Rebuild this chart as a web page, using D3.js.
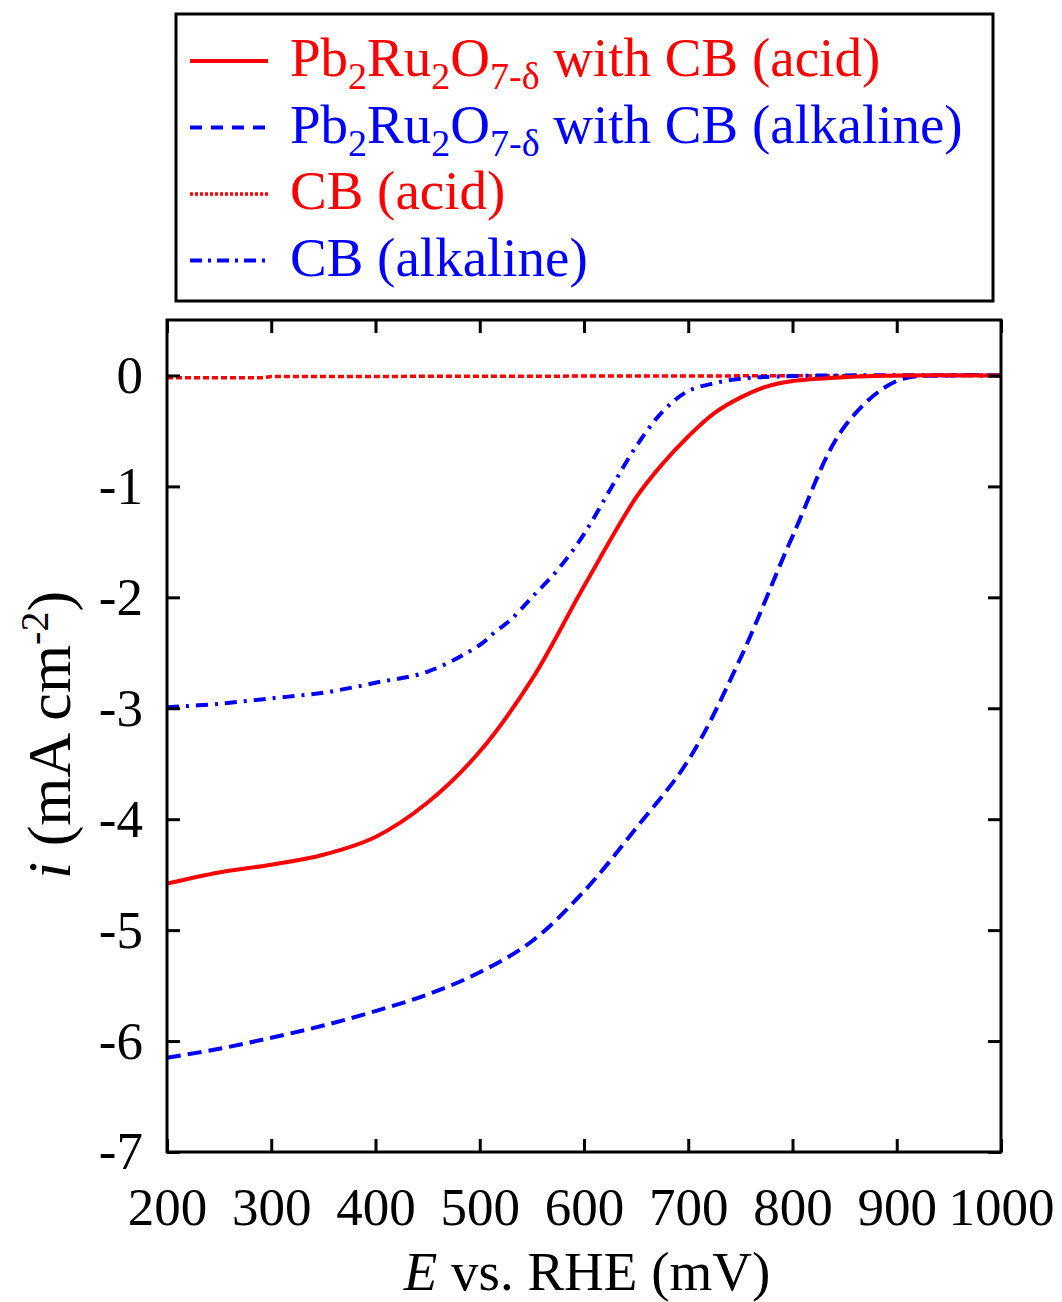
<!DOCTYPE html>
<html><head><meta charset="utf-8">
<script src="https://cdn.jsdelivr.net/npm/d3@7"></script>
<style>body{margin:0;background:#fff;} text{font-family:"Liberation Serif","Times New Roman",serif;}</style>
</head><body>
<svg id="c" width="1062" height="1302"></svg>
<script>
// Data (E in mV, i in mA cm^-2)
const pbAcidE = [200,250,300,350,400,450,500,550,600,650,675,700,725,750,775,800,850,900,1000];
const pbAcidI = [-4.58,-4.48,-4.41,-4.32,-4.16,-3.85,-3.39,-2.74,-1.90,-1.10,-0.80,-0.55,-0.34,-0.20,-0.10,-0.05,-0.015,0,0];

const pbAlkE = [200,250,300,350,400,450,500,550,600,650,700,750,800,850,900,950,1000];
const pbAlkI = [-6.15,-6.07,-5.97,-5.86,-5.73,-5.58,-5.38,-5.10,-4.65,-4.08,-3.47,-2.55,-1.45,-0.46,-0.05,0,0];

const cbAcidE = [200,290,300,1000];
const cbAcidI = [-0.02,-0.02,-0.01,0];

const cbAlkE = [200,250,300,350,400,450,500,515,530,550,575,600,625,650,675,700,725,750,800,1000];
const cbAlkI = [-2.99,-2.96,-2.91,-2.86,-2.77,-2.67,-2.43,-2.31,-2.20,-2.00,-1.75,-1.43,-1.03,-0.64,-0.33,-0.14,-0.07,-0.03,-0.005,0];

const xTicks = [200,300,400,500,600,700,800,900,1000];
const yTicks = [0,-1,-2,-3,-4,-5,-6,-7];

const svg = d3.select("#c");
const L=167, R=1001, T=320, B=1152;
const x = d3.scaleLinear().domain([200,1000]).range([L,R]);
const y = d3.scaleLinear().domain([-7,0.5]).range([B,T]);

const series = [
  {E:cbAcidE, I:cbAcidI, color:"#ff0000", dash:"6,3", w:3.5, curve:d3.curveLinear},
  {E:cbAlkE, I:cbAlkI, color:"#0000ff", dash:"12,7,3,7", w:4, curve:d3.curveCatmullRom},
  {E:pbAlkE, I:pbAlkI, color:"#0000ff", dash:"14,7", w:4, curve:d3.curveCatmullRom},
  {E:pbAcidE, I:pbAcidI, color:"#ff0000", dash:null, w:4, curve:d3.curveCatmullRom}
];
const g = svg.append("g");
series.forEach(s=>{
  const line = d3.line().x(d=>x(d[0])).y(d=>y(Math.min(d[1],0))).curve(s.curve);
  g.append("path").datum(s.E.map((e,i)=>[e,s.I[i]]))
   .attr("d",line).attr("fill","none").attr("stroke",s.color)
   .attr("stroke-width",s.w).attr("stroke-dasharray",s.dash);
});

// Axes (ticks inward on all sides)
const tl = 13;
const axB = d3.axisBottom(x).tickValues(xTicks).tickSize(-tl).tickPadding(35).tickFormat(d3.format("d"));
const axT = d3.axisTop(x).tickValues(xTicks).tickSize(-tl).tickFormat("");
const axL = d3.axisLeft(y).tickValues(yTicks).tickSize(-tl).tickPadding(24).tickFormat(d=>d===0?"0":"-"+Math.abs(d));
const axR = d3.axisRight(y).tickValues(yTicks).tickSize(-tl).tickFormat("");
function style(sel){
  sel.select(".domain").remove();
  sel.selectAll("line").attr("stroke","#000").attr("stroke-width",3);
  sel.selectAll("text").attr("fill","#000").style("font-size","53px").style("font-family","Liberation Serif");
}
svg.append("g").attr("transform",`translate(0,${B})`).call(axB).call(style);
svg.append("g").attr("transform",`translate(0,${T})`).call(axT).call(style);
svg.append("g").attr("transform",`translate(${L},0)`).call(axL).call(style);
svg.append("g").attr("transform",`translate(${R},0)`).call(axR).call(style);
svg.append("rect").attr("x",L).attr("y",T).attr("width",R-L).attr("height",B-T)
  .attr("fill","none").attr("stroke","#000").attr("stroke-width",3);

// Axis titles
const xt = svg.append("text").attr("x",587).attr("y",1290).attr("text-anchor","middle").style("font-size","55px");
xt.append("tspan").attr("font-style","italic").text("E");
xt.append("tspan").text(" vs. RHE (mV)");

const yt = svg.append("text").attr("transform",`translate(70,735) rotate(-90)`).attr("text-anchor","middle").style("font-size","62px");
yt.append("tspan").attr("font-style","italic").text("i");
yt.append("tspan").text(" (mA cm");
yt.append("tspan").attr("dy",-22).style("font-size","40px").text("-2");
yt.append("tspan").attr("dy",22).text(")");

// Legend
svg.append("rect").attr("x",176).attr("y",14).attr("width",817).attr("height",287)
  .attr("fill","#fff").attr("stroke","#000").attr("stroke-width",3);
const legend = [
  {label:"pb", suffix:" with CB (acid)", color:"#ff0000", dash:null, w:4},
  {label:"pb", suffix:" with CB (alkaline)", color:"#0000ff", dash:"12,9", w:4},
  {label:"", suffix:"CB (acid)", color:"#ff0000", dash:"3,2", w:3.5},
  {label:"", suffix:"CB (alkaline)", color:"#0000ff", dash:"12,6,3,6", w:4}
];
legend.forEach((d,i)=>{
  const ly = 61 + i*66.5;
  svg.append("line").attr("x1",190).attr("x2",268).attr("y1",ly).attr("y2",ly)
    .attr("stroke",d.color).attr("stroke-width",d.w).attr("stroke-dasharray",d.dash);
  const t = svg.append("text").attr("x",290).attr("y",ly+15).attr("fill",d.color).style("font-size","55px");
  if(d.label==="pb"){
    t.append("tspan").text("Pb");
    t.append("tspan").attr("dy",13).style("font-size","38px").text("2");
    t.append("tspan").attr("dy",-13).text("Ru");
    t.append("tspan").attr("dy",13).style("font-size","38px").text("2");
    t.append("tspan").attr("dy",-13).text("O");
    t.append("tspan").attr("dy",13).style("font-size","38px").text("7-δ");
    t.append("tspan").attr("dy",-13).text(d.suffix);
  } else {
    t.append("tspan").text(d.suffix);
  }
});
</script>
</body></html>
